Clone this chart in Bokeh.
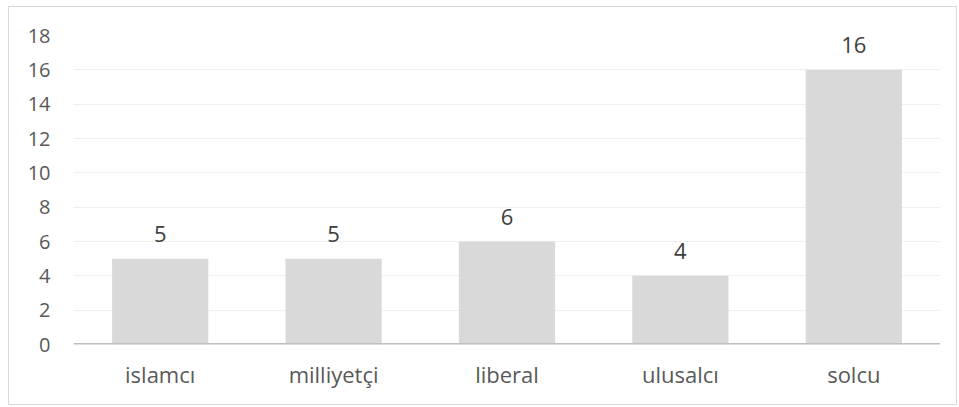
from bokeh.plotting import figure
from bokeh.models import ColumnDataSource, Range1d, FactorRange, Span, LabelSet, FixedTicker
from bokeh.core.properties import value
from bokeh.embed import file_html
from bokeh.resources import INLINE

categories = ["islamcı", "milliyetçi", "liberal", "ulusalcı", "solcu"]
values = [5, 5, 6, 4, 16]
y_ticks = [0, 2, 4, 6, 8, 10, 12, 14, 16, 18]

FONT = "Open Sans"

src = ColumnDataSource(data=dict(cat=categories, val=values, lab=[str(v) for v in values]))

p = figure(x_range=FactorRange(*categories), y_range=Range1d(0, 18),
           width=949, height=399, output_backend="svg", toolbar_location=None,
           min_border_left=64, min_border_right=18, min_border_top=28, min_border_bottom=62)
p.margin = (6, 0, 0, 8)
p.styles = {"border": "1px solid #d9d9d9"}

p.outline_line_color = None
p.background_fill_color = "white"
p.border_fill_color = "white"

p.vbar(x="cat", top="val", width=0.555, source=src, fill_color="#d9d9d9", line_color=None)

p.xgrid.grid_line_color = None
p.ygrid.grid_line_color = "#efefef"
p.ygrid.grid_line_width = 1
p.ygrid.level = "underlay"

p.yaxis.ticker = FixedTicker(ticks=y_ticks)
p.yaxis.axis_line_color = None
p.yaxis.major_tick_line_color = None
p.yaxis.minor_tick_line_color = None
p.yaxis.major_tick_out = 0
p.yaxis.major_label_standoff = 23
p.yaxis.major_label_text_font = FONT
p.yaxis.major_label_text_font_size = "20px"
p.yaxis.major_label_text_color = "#595959"

p.xaxis.axis_line_color = None
p.xaxis.major_tick_line_color = None
p.xaxis.minor_tick_line_color = None
p.xaxis.major_tick_out = 0
p.xaxis.major_label_standoff = 14
p.xaxis.major_label_text_font = FONT
p.xaxis.major_label_text_font_size = "22px"
p.xaxis.major_label_text_color = "#595959"

zero = Span(location=0, dimension="width", line_color="#bfbfbf", line_width=3)
p.add_layout(zero)

labels = LabelSet(x="cat", y="val", text="lab", source=src, text_align="center",
                  text_baseline="alphabetic", y_offset=17, text_font=value(FONT),
                  text_font_size="22px", text_color="#404040")
p.add_layout(labels)

open("out.html", "w").write(file_html(p, INLINE))
